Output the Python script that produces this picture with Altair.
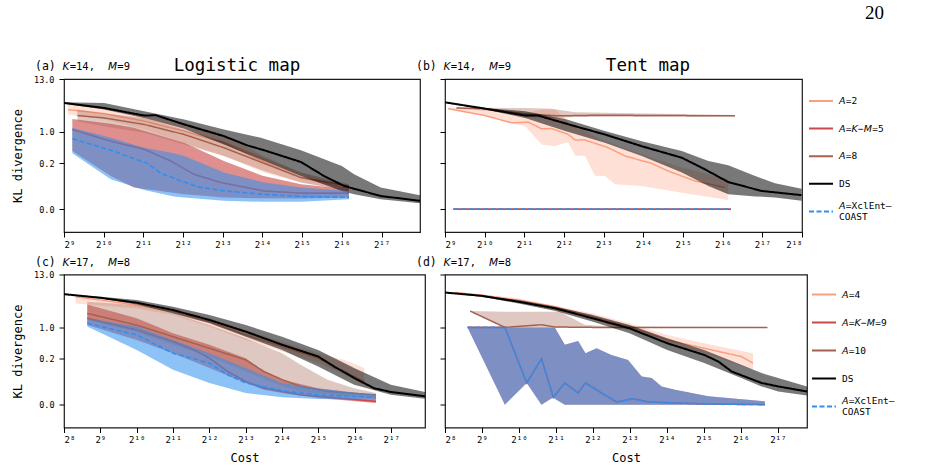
import altair as alt
import pandas as pd

FONT = "DejaVu Sans Mono"
ITFONT = "DejaVu Sans"
ORANGE, RED, BROWN, BLACK, BLUE = "#fc9f80", "#c94a48", "#a5614f", "#000000", "#2f8ff0"
COLORS = [ORANGE, RED, BROWN, BLACK, BLUE]
DASHES = [[1, 0], [1, 0], [1, 0], [1, 0], [5, 2.5]]
BAND_OPACITY = [0.32, 0.62, 0.35, 0.53, 0.55]
LINE_WIDTH = [1.5, 1.6, 1.5, 2.0, 1.6]

ROW1_NAMES = ["A=2", "A=K−M=5", "A=8", "DS", "A=XclEnt-COAST"]
ROW2_NAMES = ["A=4", "A=K−M=9", "A=10", "DS", "A=XclEnt-COAST"]

Y_TICKS = [0, 0.2, 1, 13]
X_TICKS_A = [9, 10, 11, 12, 13, 14, 15, 16, 17]
X_TICKS_B = [9, 10, 11, 12, 13, 14, 15, 16, 17, 18]
X_TICKS_CD = [8, 9, 10, 11, 12, 13, 14, 15, 16, 17]

# ---------------- panel (a): logistic map, K=14, M=9 ----------------
a_small_x = [9.10, 10.01, 11.02, 12.03, 13.03, 14.04, 14.97, 16.0, 16.18]
a_small_y = [2.97, 2.45, 1.69, 1.04, 0.58, 0.216, 0.089, 0.046, 0.042]
a_small_hi = [3.78, 3.21, 2.33, 1.56, 0.88, 0.296, 0.120, 0.058, 0.051]
a_small_lo = [2.33, 1.83, 1.12, 0.58, 0.296, 0.120, 0.065, 0.040, 0.035]

a_akm_x = [9.21, 10.18, 11.02, 11.69, 12.28, 12.95, 14.04, 14.97, 16.18]
a_akm_y = [1.12, 0.63, 0.42, 0.228, 0.108, 0.065, 0.035, 0.029, 0.029]
a_akm_bx = [9.21, 10.18, 10.76, 12.03, 13.03, 14.0, 14.97, 16.18]
a_akm_hi = [1.89, 1.49, 1.22, 0.58, 0.228, 0.10, 0.058, 0.040]
a_akm_lo = [0.383, 0.098, 0.046, 0.026, 0.019, 0.017, 0.0167, 0.019]

a_big_x = [9.34, 10.01, 11.02, 12.03, 13.03, 14.04, 14.97, 16.18]
a_big_y = [2.22, 1.98, 1.44, 0.88, 0.453, 0.201, 0.089, 0.051]
a_big_hi = [2.97, 2.45, 1.98, 1.12, 0.63, 0.271, 0.120, 0.058]
a_big_lo = [1.69, 1.32, 0.955, 0.535, 0.296, 0.131, 0.065, 0.035]

a_ds_x = [9.0, 10.01, 11.02, 11.31, 12.03, 13.03, 13.62, 14.04, 14.97, 15.55, 16.06, 16.98, 17.97]
a_ds_y = [4.09, 3.21, 2.22, 2.26, 1.44, 0.81, 0.51, 0.40, 0.216, 0.098, 0.051, 0.022, 0.0123]
a_ds_bx = [9.0, 10.01, 11.02, 12.03, 13.03, 13.96, 14.97, 16.0, 16.31, 16.98, 17.97]
a_ds_hi = [4.22, 4.09, 2.74, 1.83, 1.12, 0.75, 0.40, 0.174, 0.108, 0.046, 0.024]
a_ds_lo = [3.95, 2.97, 1.98, 1.16, 0.535, 0.248, 0.098, 0.035, 0.026, 0.015, 0.0083]

a_xcl_x = [9.21, 10.18, 11.10, 11.44, 12.36, 13.03, 14.04, 14.97, 16.18]
a_xcl_y = [0.71, 0.40, 0.201, 0.115, 0.048, 0.035, 0.026, 0.021, 0.019]
a_xcl_bx = [9.21, 10.18, 11.02, 11.77, 12.03, 13.03, 14.04, 14.97, 16.18]
a_xcl_hi = [1.22, 0.75, 0.453, 0.34, 0.296, 0.120, 0.065, 0.046, 0.035]
a_xcl_lo = [0.34, 0.080, 0.038, 0.021, 0.019, 0.0123, 0.0105, 0.0105, 0.015]

# ---------------- panel (b): tent map, K=14, M=9 ----------------
b_small_x = [9.08, 10.01, 10.68, 11.10, 11.44, 11.69, 12.11, 12.28, 12.53, 12.87, 13.12, 13.54, 14.21, 14.63, 15.30, 16.06]
b_small_y = [3.11, 2.22, 1.56, 1.61, 1.16, 1.18, 0.88, 0.665, 0.665, 0.535, 0.453, 0.296, 0.201, 0.131, 0.072, 0.046]
b_small_bx = [9.08, 10.01, 11.02, 11.44, 11.77, 12.03, 12.11, 12.28, 12.53, 12.78, 13.03, 13.29, 13.96, 14.97, 16.14]
b_small_hi = [3.31, 2.97, 2.45, 2.97, 2.97, 1.98, 1.56, 1.32, 1.04, 0.81, 0.63, 0.535, 0.322, 0.159, 0.080]
b_small_lo = [2.97, 2.15, 1.32, 0.535, 0.49, 0.58, 0.58, 0.306, 0.296, 0.10, 0.098, 0.058, 0.051, 0.030, 0.014]

b_akm_x = [9.21, 16.21]
b_akm_y = [0.0, 0.0]

b_big_x = [9.29, 10.01, 11.02, 11.86, 12.87, 16.31]
b_big_y = [3.21, 3.11, 2.41, 2.19, 2.26, 2.19]
b_big_bx = [9.29, 10.68, 11.02, 11.69, 12.28, 16.31]
b_big_hi = [3.30, 3.21, 3.21, 3.11, 2.61, 2.29]
b_big_lo = [3.11, 2.61, 2.08, 1.98, 2.08, 2.12]

b_ds_x = [9.0, 10.01, 11.02, 11.35, 12.28, 13.03, 13.96, 14.97, 15.55, 16.14, 16.98, 17.99]
b_ds_y = [4.22, 3.11, 2.22, 2.22, 1.32, 0.88, 0.49, 0.271, 0.145, 0.067, 0.035, 0.024]
b_ds_bx = [9.0, 10.01, 11.02, 12.03, 13.03, 13.96, 14.97, 15.64, 16.14, 16.82, 17.32, 17.99]
b_ds_hi = [4.22, 3.21, 2.74, 1.89, 1.04, 0.63, 0.383, 0.228, 0.18, 0.098, 0.062, 0.042]
b_ds_lo = [4.09, 2.97, 1.98, 1.04, 0.58, 0.296, 0.120, 0.051, 0.026, 0.021, 0.019, 0.0123]

b_xcl_x = [9.21, 16.21]
b_xcl_y = [0.0, 0.0]

# ---------------- panel (c): logistic map, K=17, M=8 ----------------
c_small_x = [8.32, 9.01, 10.0, 11.0, 12.0, 13.0, 14.0, 14.99, 15.71, 16.26]
c_small_y = [4.43, 3.78, 2.97, 2.15, 1.32, 0.69, 0.383, 0.208, 0.098, 0.051]
c_small_bx = [8.32, 10.0, 11.0, 12.0, 13.0, 14.0, 14.99, 15.71, 16.26]
c_small_hi = [4.80, 3.49, 2.53, 1.56, 0.88, 0.49, 0.271, 0.190, 0.120]
c_small_lo = [3.21, 2.53, 1.83, 1.04, 0.535, 0.296, 0.159, 0.080, 0.040]

c_akm_x = [8.64, 10.0, 11.0, 11.58, 12.0, 12.5, 13.0, 13.5, 14.51, 15.52, 16.58]
c_akm_y = [1.56, 0.88, 0.49, 0.322, 0.208, 0.098, 0.051, 0.030, 0.015, 0.0094, 0.0043]
c_akm_bx = [8.64, 10.0, 11.0, 12.0, 13.0, 13.5, 14.0, 14.99, 16.58]
c_akm_hi = [3.07, 1.56, 0.75, 0.42, 0.208, 0.098, 0.058, 0.030, 0.014]
c_akm_lo = [1.12, 0.535, 0.271, 0.120, 0.046, 0.026, 0.019, 0.0094, 0.0021]

c_big_x = [8.64, 10.0, 11.0, 12.0, 13.0, 13.5, 14.0, 14.51, 15.25, 16.58]
c_big_y = [1.98, 1.12, 0.63, 0.35, 0.190, 0.098, 0.058, 0.035, 0.022, 0.015]
c_big_bx = [8.64, 10.0, 11.0, 12.0, 13.0, 14.0, 14.51, 15.25, 15.98, 16.58]
c_big_hi = [3.49, 2.97, 1.98, 1.12, 0.58, 0.271, 0.145, 0.058, 0.030, 0.019]
c_big_lo = [1.44, 0.81, 0.42, 0.228, 0.098, 0.035, 0.022, 0.0167, 0.0123, 0.0105]

c_ds_x = [8.0, 9.01, 10.0, 11.0, 12.0, 13.0, 14.0, 14.99, 15.43, 15.98, 16.53, 16.99, 17.93]
c_ds_y = [5.04, 4.22, 3.33, 2.33, 1.44, 0.81, 0.42, 0.228, 0.131, 0.065, 0.030, 0.021, 0.0123]
c_ds_bx = [8.0, 9.01, 10.0, 11.0, 12.0, 13.0, 14.0, 14.99, 15.98, 16.99, 17.93]
c_ds_hi = [5.08, 4.43, 3.78, 2.74, 1.83, 1.12, 0.63, 0.322, 0.120, 0.040, 0.021]
c_ds_lo = [5.0, 4.09, 3.07, 1.98, 1.22, 0.63, 0.322, 0.131, 0.040, 0.015, 0.0083]

c_xcl_x = [8.64, 10.0, 11.0, 12.0, 12.5, 13.0, 14.0, 14.99, 16.58]
c_xcl_y = [1.22, 0.69, 0.271, 0.159, 0.080, 0.046, 0.024, 0.015, 0.0105]
c_xcl_bx = [8.64, 10.0, 11.0, 12.0, 13.0, 14.0, 14.99, 16.58]
c_xcl_hi = [1.56, 1.04, 0.535, 0.271, 0.120, 0.046, 0.029, 0.015]
c_xcl_lo = [1.04, 0.322, 0.108, 0.046, 0.019, 0.0105, 0.0078, 0.0068]

# ---------------- panel (d): tent map, K=17, M=8 ----------------
d_small_x = [8.27, 8.99, 9.99, 10.99, 12.0, 12.99, 14.01, 15.01, 16.01, 16.33]
d_small_y = [5.45, 4.80, 3.78, 2.74, 1.69, 1.04, 0.535, 0.35, 0.228, 0.159]
d_small_bx = [8.27, 9.99, 12.0, 12.99, 14.01, 15.01, 16.33]
d_small_hi = [5.64, 4.09, 1.98, 1.22, 0.69, 0.453, 0.271]
d_small_lo = [5.12, 3.49, 1.44, 0.88, 0.453, 0.271, 0.108]

d_akm_x = [8.61, 9.62, 10.21, 10.61, 10.93, 11.24, 11.60, 11.80, 12.23, 12.64, 13.09, 13.50, 14.22, 15.12, 16.65]
d_akm_y = [1.0, 1.0, 0.046, 0.201, 0.0105, 0.046, 0.019, 0.046, 0.019, 0.0034, 0.0083, 0.0034, 0.0021, 0.0008, 0.0]
d_akm_bx = [8.61, 9.62, 10.21, 10.61, 10.93, 10.97, 11.24, 11.60, 11.80, 12.10, 12.50, 12.95, 13.32, 13.59, 13.86, 14.22, 15.12, 16.65]
d_akm_hi = [1.0, 1.0, 1.0, 1.0, 1.0, 1.0, 0.42, 0.51, 0.271, 0.35, 0.248, 0.190, 0.072, 0.065, 0.035, 0.026, 0.0123, 0.0043]
d_akm_lo = [1.0, 0.0, 0.046, 0.0, 0.0105, 0.008, 0.0, 0.0, 0.0, 0.0, 0.0, 0.0, 0.0, 0.0, 0.0, 0.0, 0.0, 0.0]

d_big_x = [8.68, 9.62, 10.61, 10.97, 12.0, 16.72]
d_big_y = [2.22, 1.0, 1.14, 1.02, 1.0, 1.0]
d_big_bx = [8.68, 9.62, 11.11, 11.78, 12.5, 16.72]
d_big_hi = [2.22, 2.15, 2.15, 1.14, 1.05, 1.02]
d_big_lo = [2.22, 1.0, 1.0, 1.0, 1.0, 0.99]

d_ds_x = [8.0, 8.99, 9.99, 10.99, 12.0, 12.99, 14.01, 15.01, 15.39, 15.75, 16.56, 17.01, 17.79]
d_ds_y = [5.45, 4.65, 3.49, 2.53, 1.56, 0.955, 0.453, 0.248, 0.174, 0.098, 0.046, 0.035, 0.022]
d_ds_bx = [8.0, 8.99, 9.99, 10.99, 12.0, 12.99, 14.01, 15.01, 16.01, 16.56, 17.01, 17.79]
d_ds_hi = [5.5, 4.80, 3.78, 2.74, 1.83, 1.12, 0.58, 0.322, 0.145, 0.089, 0.065, 0.035]
d_ds_lo = [5.4, 4.43, 3.21, 2.22, 1.32, 0.75, 0.322, 0.159, 0.065, 0.035, 0.022, 0.014]

d_xcl_x = list(d_akm_x)
d_xcl_y = list(d_akm_y)
d_xcl_bx = list(d_akm_bx)
d_xcl_hi = list(d_akm_hi)
d_xcl_lo = list(d_akm_lo)

# legend label pieces: (text, italic)
ROW1_LEGEND = [
    [[("A", True), ("=2", False)]],
    [[("A", True), ("=", False), ("K", True), ("−", False), ("M", True), ("=5", False)]],
    [[("A", True), ("=8", False)]],
    [[("DS", False)]],
    [[("A", True), ("=XclEnt–", False)], [("COAST", False)]],
]
ROW2_LEGEND = [
    [[("A", True), ("=4", False)]],
    [[("A", True), ("=", False), ("K", True), ("−", False), ("M", True), ("=9", False)]],
    [[("A", True), ("=10", False)]],
    [[("DS", False)]],
    [[("A", True), ("=XclEnt–", False)], [("COAST", False)]],
]

# ---------------------------------------------------------------------
SUP = "['⁰','¹','²','³','⁴','⁵','⁶','⁷','⁸','⁹']"
XLABEL = ("'2' + (datum.value >= 10 ? " + SUP + "[floor(datum.value / 10)] : '') + "
          + SUP + "[datum.value % 10]")
DUMMY = pd.DataFrame({"k": [0]})
IT_WIDTH = {"A": 0.684, "K": 0.656, "M": 0.863}


def line_df(name, xs, ys):
    return pd.DataFrame({"series": name, "x": xs, "y": ys})


def band_df(name, xs, lo, hi):
    return pd.DataFrame({"series": name, "x": xs, "lo": lo, "hi": hi})


def text(t, x, y, size=12, font=FONT, style="normal", align="left"):
    return alt.Chart(DUMMY).mark_text(
        font=font, fontSize=size, fontStyle=style, align=align, baseline="middle", color="black"
    ).encode(x=alt.value(x), y=alt.value(y), text=alt.value(t))


def rich(parts, x, y, size):
    out = []
    cx = x
    for t, italic in parts:
        if italic:
            out.append(text(t, cx, y, size, font=ITFONT, style="italic"))
            cx += IT_WIDTH[t] * size + 0.3
        else:
            out.append(text(t, cx, y, size))
            cx += 0.602 * size * len(t)
    return out


def legend_layers(entries, x0, y0, step):
    out = []
    for i, lines in enumerate(entries):
        y = y0 + step * i
        out.append(alt.Chart(DUMMY).mark_rule(
            color=COLORS[i], strokeWidth=2, strokeDash=DASHES[i]
        ).encode(x=alt.value(x0), x2=alt.value(x0 + 24), y=alt.value(y)))
        n = len(lines)
        for j, parts in enumerate(lines):
            ly = y + (j - (n - 1) / 2) * 10.5
            out += rich(parts, x0 + 30, ly, 9.5)
    return out


def panel(series, names, xdom, xticks, width, left, bottom, letter, kval, mval, extra):
    xscale = alt.Scale(domain=xdom, nice=False, zero=False)
    yscale = alt.Scale(type="symlog", constant=0.025, domain=[-0.05, 13], nice=False)
    xaxis = alt.Axis(values=xticks, labelExpr=XLABEL, title="Cost" if bottom else None,
                     labelFontSize=9, labelPadding=3, titlePadding=8)
    yaxis = alt.Axis(values=Y_TICKS, format=".1f", labels=left,
                     title="KL divergence" if left else None, labelPadding=5, titlePadding=9)
    color_scale = alt.Scale(domain=names, range=COLORS)
    layers = []
    for i, (name, lx, ly, bx, lo, hi) in enumerate(series):
        if bx is not None:
            layers.append(alt.Chart(band_df(name, bx, lo, hi)).mark_area(opacity=BAND_OPACITY[i]).encode(
                x=alt.X("x:Q", scale=xscale, axis=xaxis),
                y=alt.Y("lo:Q", scale=yscale, axis=yaxis),
                y2="hi:Q",
                fill=alt.Fill("series:N", scale=color_scale, legend=None),
            ))
        layers.append(alt.Chart(line_df(name, lx, ly)).mark_line(
            strokeWidth=LINE_WIDTH[i], strokeDash=DASHES[i]
        ).encode(
            x=alt.X("x:Q", scale=xscale, axis=xaxis),
            y=alt.Y("y:Q", scale=yscale, axis=yaxis),
            stroke=alt.Stroke("series:N", scale=color_scale, legend=None),
        ))
    ly = -12
    layers.append(text(letter, -29, ly, size=11.5))
    layers += rich([("K", True), (f"={kval},", False)], -1.5, ly, 10.5)
    layers += rich([("M", True), (f"={mval}", False)], 44, ly, 10.5)
    layers += extra
    return alt.layer(*layers).properties(width=width, height=153)


def series_list(names, prefix):
    g = globals()
    out = []
    for key, name in zip(["small", "akm", "big", "ds", "xcl"], names):
        lx = g[f"{prefix}_{key}_x"]
        ly = g[f"{prefix}_{key}_y"]
        if f"{prefix}_{key}_lo" in g:
            bx = g.get(f"{prefix}_{key}_bx", lx)
            out.append((name, lx, ly, bx, g[f"{prefix}_{key}_lo"], g[f"{prefix}_{key}_hi"]))
        else:
            out.append((name, lx, ly, None, None, None))
    return out


pa = panel(series_list(ROW1_NAMES, "a"), ROW1_NAMES, [9, 17.97], X_TICKS_A, 356, True, False,
           "(a)", 14, 9, [text("Logistic map", 173, -13, size=17.5, align="center")])
pb = panel(series_list(ROW1_NAMES, "b"), ROW1_NAMES, [9, 18], X_TICKS_B, 357, False, False,
           "(b)", 14, 9,
           [text("Tent map", 203, -13, size=17.5, align="center"),
            text("20", 420, -66, size=19, font="Liberation Serif")]
           + legend_layers(ROW1_LEGEND, 364, 22, 27.6))
pc = panel(series_list(ROW2_NAMES, "c"), ROW2_NAMES, [8, 17.93], X_TICKS_CD, 361, True, True,
           "(c)", 17, 8, [])
pd_ = panel(series_list(ROW2_NAMES, "d"), ROW2_NAMES, [8, 17.79], X_TICKS_CD, 362, False, True,
            "(d)", 17, 8, legend_layers(ROW2_LEGEND, 367, 20, 28.0))

IND = dict(stroke="independent", fill="independent")

chart = (
    alt.concat(pa, pb, pc, pd_, columns=2, spacing={"row": 42.5, "column": 20}, bounds="flush")
    .resolve_scale(**IND)
    .properties(padding={"left": 10, "top": 3, "right": 5, "bottom": 5}, background="white")
    .configure_view(stroke="#1a1a1a", strokeWidth=1.2)
    .configure_axis(labelFont=FONT, titleFont=FONT, labelFontSize=8.5, titleFontSize=12,
                    titleFontWeight="normal", labelColor="black", titleColor="black",
                    tickColor="black", tickSize=5, domain=False, grid=False)
)

chart.save("out.html", embed_options={"renderer": "svg", "actions": False})
